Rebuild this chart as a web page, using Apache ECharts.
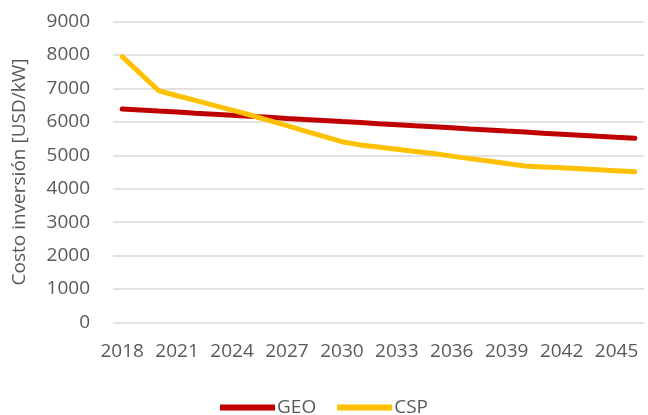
<!DOCTYPE html>
<html>
<head>
<meta charset="utf-8">
<script src="https://cdn.jsdelivr.net/npm/echarts@6/dist/echarts.min.js"></script>
<style>
    html, body { margin: 0; padding: 0; background: #fff; }
    #chart { width: 648px; height: 415px; }
</style>
</head>
<body>
<div id="chart"></div>
<script>
    // años 2018 - 2046
    var years = ['2018', '2019', '2020', '2021', '2022', '2023', '2024', '2025', '2026', '2027',
        '2028', '2029', '2030', '2031', '2032', '2033', '2034', '2035', '2036', '2037',
        '2038', '2039', '2040', '2041', '2042', '2043', '2044', '2045', '2046'];

    var geo = [6385, 6354, 6322, 6291, 6259, 6228, 6197, 6165, 6134, 6102,
        6071, 6040, 6008, 5977, 5945, 5914, 5882, 5851, 5820, 5788,
        5757, 5725, 5694, 5662, 5631, 5600, 5568, 5537, 5508];

    var csp = [7950, 7440, 6930, 6780, 6640, 6490, 6350, 6205, 6045, 5885,
        5725, 5565, 5407, 5310, 5245, 5180, 5115, 5050, 4975, 4900,
        4830, 4755, 4680, 4650, 4625, 4595, 4570, 4540, 4510];

    var yTicks = [0, 1000, 2000, 3000, 4000, 5000, 6000, 7000, 8000, 9000];

    var textColor = '#595959';
    var font = 'Open Sans';

    var mChart = echarts.init(document.getElementById('chart'));
    var options = {
        animation: false,
        grid: {
            left: 113,
            right: 4,
            top: 21.5,
            bottom: 92.5
        },
        legend: {
            top: 393,
            left: 'center',
            icon: 'rect',
            itemWidth: 55,
            itemHeight: 6,
            itemGap: 21,
            textStyle: { color: textColor, fontFamily: font, fontSize: 19, padding: [0, 0, 0, -3] },
            data: ['GEO', 'CSP']
        },
        xAxis: {
            type: 'category',
            data: years,
            boundaryGap: true,
            axisLine: { show: false },
            axisTick: { show: false },
            axisLabel: {
                interval: 2,
                color: textColor,
                fontFamily: font,
                fontSize: 19,
                margin: 20
            }
        },
        yAxis: {
            type: 'value',
            min: yTicks[0],
            max: yTicks[yTicks.length - 1],
            interval: 1000,
            name: 'Costo inversión [USD/kW]',
            nameLocation: 'middle',
            nameGap: 84,
            nameTextStyle: { color: textColor, fontFamily: font, fontSize: 19 },
            axisLine: { show: false },
            axisTick: { show: false },
            axisLabel: {
                color: textColor,
                fontFamily: font,
                fontSize: 19,
                margin: 23,
                formatter: function (v) { return String(v); }
            },
            splitLine: {
                lineStyle: { color: '#d9d9d9', width: 1.5 }
            }
        },
        series: [
            {
                name: 'GEO',
                type: 'line',
                data: geo,
                symbol: 'none',
                itemStyle: { color: '#C00000' },
                lineStyle: { color: '#C00000', width: 5, cap: 'round' }
            },
            {
                name: 'CSP',
                type: 'line',
                data: csp,
                symbol: 'none',
                itemStyle: { color: '#FFC000' },
                lineStyle: { color: '#FFC000', width: 5, cap: 'round', join: 'round' }
            }
        ]
    };
    mChart.setOption(options);
</script>
</body>
</html>
